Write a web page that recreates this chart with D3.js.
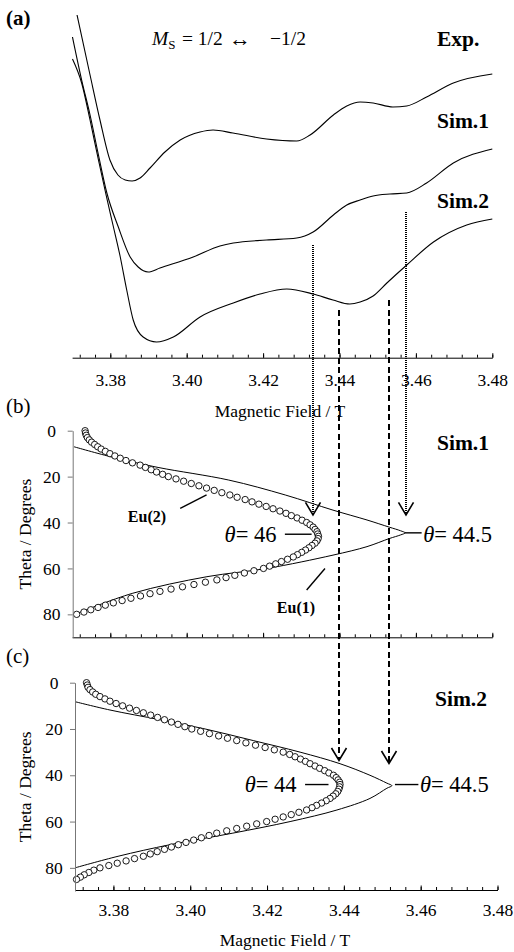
<!DOCTYPE html>
<html><head><meta charset="utf-8">
<script src="https://cdn.jsdelivr.net/npm/d3@7"></script>
<style>
body{margin:0;background:#fff}
</style>
</head><body>
<svg id="chart" width="514" height="952"></svg>
<script>
// ---------- DATA ----------
// Panel (a): EPR spectra (field in T, intensity in arbitrary units)
const fieldExp = [3.3713,3.3747,3.3773,3.3799,3.3820,3.3839,3.3857,3.3878,3.3904,3.3943,3.3983,3.4035,3.4069,3.4121,3.4209,3.4288,3.4323,3.4384,3.4419,3.4454,3.4488,3.4540,3.4576,3.4628,3.4698,3.4800];
const intExp   = [3.43,2.83,2.38,1.98,1.83,1.78,1.77,1.80,1.90,2.06,2.18,2.26,2.28,2.25,2.19,2.17,2.23,2.43,2.52,2.56,2.55,2.51,2.52,2.61,2.75,2.84];
const fieldSim1 = [3.3701,3.3725,3.3747,3.3769,3.3791,3.3821,3.3852,3.3873,3.3899,3.3930,3.4017,3.4087,3.4122,3.4209,3.4288,3.4331,3.4384,3.4419,3.4454,3.4488,3.4532,3.4576,3.4628,3.4698,3.4800];
const intSim1   = [3.21,2.78,2.43,2.03,1.65,1.31,1.01,0.91,0.86,0.90,1.01,1.12,1.15,1.18,1.20,1.26,1.43,1.53,1.58,1.62,1.64,1.65,1.75,1.95,2.09];
const fieldSim2 = [3.3701,3.3725,3.3747,3.3769,3.3789,3.3807,3.3825,3.3843,3.3860,3.3886,3.3921,3.3965,3.4035,3.4122,3.4192,3.4262,3.4331,3.4383,3.4427,3.4454,3.4488,3.4524,3.4576,3.4646,3.4733,3.4800];
const intSim2   = [2.99,2.75,2.38,1.98,1.63,1.33,1.03,0.68,0.38,0.21,0.16,0.21,0.41,0.55,0.64,0.69,0.64,0.58,0.54,0.56,0.62,0.75,0.93,1.16,1.33,1.39];

// Panel (b): Sim.1 angular dependence
const thetaEu1B = [7,11.6,16,21.5,28,34.6,38.9,42,43.6,44.5,45.4,47,50.5,54.2,60,63.6,70.8,79.6];
const fieldEu1B = [3.3705,3.3807,3.3925,3.4110,3.4258,3.4383,3.4472,3.4530,3.4560,3.4572,3.4560,3.4530,3.4472,3.4383,3.4210,3.4053,3.3859,3.3713];
const fieldEu2B = [3.3734,3.3735,3.3737,3.3740,3.3745,3.3751,3.3759,3.3767,3.3776,3.3787,3.3799,3.3812,3.3826,3.3841,3.3858,3.3878,3.3892,3.3907,3.3921,3.3937,3.3952,3.3972,3.3992,3.4012,3.4032,3.4052,3.4072,3.4092,3.4113,3.4132,3.4153,3.4171,3.4189,3.4208,3.4226,3.4244,3.4260,3.4274,3.4289,3.4302,3.4314,3.4323,3.4331,3.4336,3.4341,3.4343,3.4345,3.4344,3.4341,3.4336,3.4328,3.4320,3.4311,3.4301,3.4290,3.4279,3.4264,3.4248,3.4233,3.4217,3.4201,3.4176,3.4151,3.4126,3.4103,3.4079,3.4049,3.4019,3.3989,3.3959,3.3930,3.3904,3.3879,3.3854,3.3831,3.3808,3.3787,3.3768,3.3749,3.3731,3.3712];

// Panel (c): Sim.2 angular dependence
const thetaEu1C = [8.2,11.8,16,20,25,30,35,40,43.4,44.5,45.6,50,55,60,65,70,75,80];
const fieldEu1C = [3.3700,3.3791,3.3921,3.4039,3.4164,3.4286,3.4390,3.4468,3.4512,3.4525,3.4512,3.4468,3.4382,3.4260,3.4111,3.3947,3.3812,3.3700];
const fieldEu2C = [3.3730,3.3732,3.3734,3.3739,3.3746,3.3754,3.3765,3.3778,3.3791,3.3807,3.3824,3.3842,3.3860,3.3878,3.3897,3.3915,3.3933,3.3951,3.3968,3.3986,3.4004,3.4027,3.4050,3.4074,3.4097,3.4121,3.4145,3.4170,3.4195,3.4219,3.4242,3.4259,3.4273,3.4287,3.4300,3.4312,3.4325,3.4337,3.4350,3.4361,3.4373,3.4380,3.4385,3.4389,3.4390,3.4389,3.4387,3.4384,3.4379,3.4372,3.4364,3.4354,3.4342,3.4329,3.4317,3.4303,3.4283,3.4263,3.4242,3.4221,3.4199,3.4173,3.4147,3.4121,3.4095,3.4069,3.4049,3.4029,3.4009,3.3989,3.3969,3.3951,3.3933,3.3914,3.3896,3.3878,3.3855,3.3833,3.3810,3.3788,3.3765,3.3749,3.3736,3.3724,3.3714,3.3704];

// Axis ticks
const fieldTicks = [3.38,3.40,3.42,3.44,3.46,3.48];
const thetaTicks = [0,20,40,60,80];

// Guide lines (field, start intensity in (a), arrow-tip theta in target panel)
const dottedField = [3.4331,3.4574], dottedTop = [1.13,1.46], dottedTip = [36.7,36.7];
const dashedField = [3.4399,3.4530], dashedTop = [0.48,0.58], dashedTip = [33.6,34.9];

// ---------- DRAW ----------
const SERIF = '"Liberation Serif", Tinos, "Times New Roman", serif';
const svg = d3.select("#chart");
const fmt = d3.format(".2f");
const minorTicks = d3.range(3.372, 3.4801, 0.004);

const xA = d3.scaleLinear([3.37,3.48],[72.1,492.3]);
const yA = d3.scaleLinear([0,3.5],[358,8]);
const yB = d3.scaleLinear([0,90],[430.7,637.3]);
const xC = d3.scaleLinear([3.37,3.48],[75,497.5]);
const yC = d3.scaleLinear([0,90],[682.7,891]);

function xAxis(g, x, y, labels, pad){
  g.append("g").attr("transform",`translate(0,${y})`)
    .call(d3.axisBottom(x).tickValues(minorTicks).tickSize(-3).tickFormat(""))
    .call(a=>a.select(".domain").remove());
  const ax = g.append("g").attr("transform",`translate(0,${y})`)
    .call(d3.axisBottom(x).tickValues(fieldTicks).tickSizeInner(-4.5).tickSizeOuter(0).tickPadding(pad)
      .tickFormat(labels?fmt:""));
  ax.select(".domain").attr("stroke","#000");
  ax.selectAll("text").attr("font-size",17.5).style("font-family",SERIF).attr("fill","#000");
}
function yAxis(g, y, x){
  const ax = g.append("g").attr("transform",`translate(${x},0)`)
    .call(d3.axisLeft(y).tickValues(thetaTicks).tickSizeInner(5).tickSizeOuter(0).tickPadding(2));
  ax.select(".domain").attr("stroke","#777");
  ax.selectAll(".tick line").attr("stroke","#777");
  ax.selectAll("text").attr("font-size",17.5).style("font-family",SERIF).attr("fill","#000")
    .attr("text-anchor","middle").attr("x",-21);
}

// Panel (a)
const gA = svg.append("g");
const lineA = d3.line().x(d=>xA(d[0])).y(d=>yA(d[1])).curve(d3.curveMonotoneX);
[[fieldExp,intExp],[fieldSim1,intSim1],[fieldSim2,intSim2]].forEach(([f,v])=>{
  gA.append("path").attr("d",lineA(d3.zip(f,v))).attr("fill","none").attr("stroke","#000").attr("stroke-width",1.1);
});
xAxis(gA, xA, 357.7, true, 15.5);

// Panel (b)
const gB = svg.append("g");
const lineB = d3.line().x(d=>xA(d[0])).y(d=>yB(d[1])).curve(d3.curveCatmullRom.alpha(0.5));
gB.append("path").attr("d",lineB(d3.zip(fieldEu1B,thetaEu1B))).attr("fill","none").attr("stroke","#000").attr("stroke-width",1);
gB.selectAll("circle").data(fieldEu2B).join("circle")
  .attr("cx",d=>xA(d)).attr("cy",(d,i)=>yB(i)).attr("r",3.2)
  .attr("fill","#fff").attr("stroke","#000").attr("stroke-width",0.9);
xAxis(gB, xA, 637.3, false, 0);
yAxis(gB, yB, 72.7);

// Panel (c)
const gC = svg.append("g");
const lineC = d3.line().x(d=>xC(d[0])).y(d=>yC(d[1])).curve(d3.curveCatmullRom.alpha(0.5));
gC.append("path").attr("d",lineC(d3.zip(fieldEu1C,thetaEu1C))).attr("fill","none").attr("stroke","#000").attr("stroke-width",1);
gC.selectAll("circle").data(fieldEu2C).join("circle")
  .attr("cx",d=>xC(d)).attr("cy",(d,i)=>yC(i)).attr("r",3.2)
  .attr("fill","#fff").attr("stroke","#000").attr("stroke-width",0.9);
xAxis(gC, xC, 890, true, 14);
yAxis(gC, yC, 75);

// Guide lines with open arrow heads
function guide(f, top, tipY, dash, w){
  const x = Math.round(xA(f)), y0 = yA(top);
  svg.append("line").attr("x1",x).attr("x2",x).attr("y1",y0).attr("y2",tipY-1)
    .attr("stroke","#000").attr("stroke-width",w).attr("stroke-dasharray",dash)
    .attr("shape-rendering","crispEdges");
  svg.append("path").attr("d",`M${x-7.5},${tipY-12.5}L${x},${tipY}L${x+7.5},${tipY-12.5}`)
    .attr("fill","none").attr("stroke","#000").attr("stroke-width",1.6);
}
dottedField.forEach((f,i)=>guide(f, dottedTop[i], yB(dottedTip[i]), "1,1", 2));
dashedField.forEach((f,i)=>guide(f, dashedTop[i], yC(dashedTip[i]), "6,3.5", 1.5));

// ---------- TEXT ----------
function txt(x,y,s,o={}){
  const t = svg.append("text").attr("x",x).attr("y",y).text(s)
    .attr("font-size",o.size||17.5).style("font-family",SERIF).attr("fill","#000");
  if(o.bold) t.attr("font-weight","bold");
  if(o.anchor) t.attr("text-anchor",o.anchor);
  return t;
}
txt(6,25,"(a)",{size:21,bold:true});
txt(6,413,"(b)",{size:21});
txt(6,663,"(c)",{size:21});

// M_S = 1/2 <-> -1/2 (transition label)
const ms = svg.append("text").attr("x",152).attr("y",45).attr("font-size",19.5).style("font-family",SERIF);
ms.append("tspan").attr("font-style","italic").text("M");
ms.append("tspan").attr("font-size",13).attr("dy",4).text("S");
ms.append("tspan").attr("dy",-4).attr("x",182).text("= 1/2");
ms.append("tspan").attr("x",229).attr("dy",1).attr("font-size",22).text("\u2194");
svg.append("text").attr("x",306).attr("y",45).attr("text-anchor","end").attr("font-size",19.5)
  .style("font-family",SERIF).text("\u22121/2");

txt(437,46,"Exp.",{size:21.5,bold:true});
txt(437,128,"Sim.1",{size:21.5,bold:true});
txt(437,208,"Sim.2",{size:21.5,bold:true});
txt(280,417,"Magnetic Field / T",{anchor:"middle"});
txt(437,450,"Sim.1",{size:21.5,bold:true});
txt(435,706,"Sim.2",{size:21.5,bold:true});
txt(285,946,"Magnetic Field / T",{anchor:"middle"});

[yB(45), yC(45)].forEach(cy=>{
  svg.append("text").attr("transform",`translate(31,${cy}) rotate(-90)`)
    .attr("text-anchor","middle").attr("font-size",17.5).style("font-family",SERIF).text("Theta / Degrees");
});

function thetaLabel(x,y,val,anchor){
  const t = svg.append("text").attr("x",x).attr("y",y).attr("font-size",22.5).attr("text-anchor",anchor).style("font-family",SERIF);
  t.append("tspan").attr("font-style","italic").text("\u03b8");
  t.append("tspan").text("= "+val);
}
function leader(x1,y1,x2,y2){
  svg.append("line").attr("x1",x1).attr("y1",y1).attr("x2",x2).attr("y2",y2).attr("stroke","#000").attr("stroke-width",1.4);
}
// panel b annotations
leader(xA(3.4257),yB(45.1),xA(3.4327),yB(45.1));
thetaLabel(xA(3.4235),yB(48.3),"46","end");
leader(xA(3.4571),yB(44.5),xA(3.4615),yB(44.5));
thetaLabel(xA(3.4619),yB(48.3),"44.5","start");
leader(xA(3.3983),yB(33.8),xA(3.4052),yB(28));
txt(xA(3.3846),yB(39.6),"Eu(2)",{size:16,bold:true});
leader(xA(3.4314),yB(69.4),xA(3.4362),yB(60));
txt(xA(3.4236),yB(79.4),"Eu(1)",{size:16,bold:true});
// panel c annotations
leader(xC(3.4299),yC(44),xC(3.4360),yC(44));
thetaLabel(xC(3.4277),yC(47.3),"44","end");
leader(xC(3.4533),yC(44),xC(3.4594),yC(44));
thetaLabel(xC(3.4598),yC(47.3),"44.5","start");
</script>
</body></html>
